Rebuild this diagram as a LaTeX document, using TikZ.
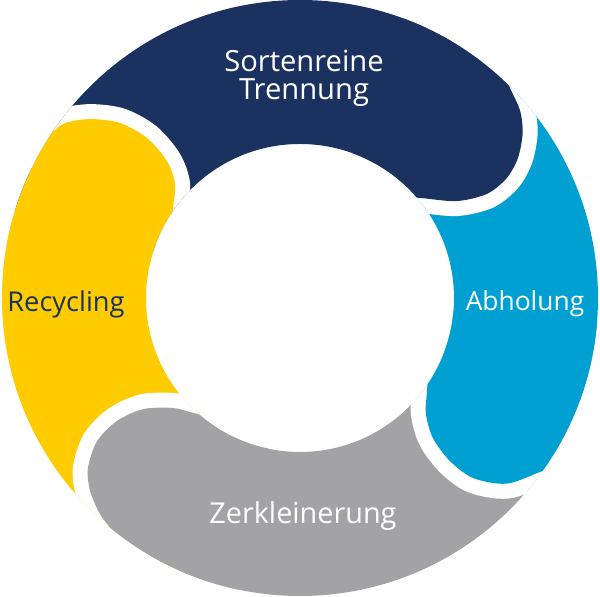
\documentclass[tikz,border=0pt]{standalone}
\usepackage{fontspec}
\setmainfont{Open Sans}
\usepackage{tikz}
\usepackage{xcolor}

\definecolor{ringnavy}{RGB}{27,50,97}
\definecolor{ringblue}{RGB}{0,160,210}
\definecolor{ringgray}{RGB}{163,163,165}
\definecolor{ringyellow}{RGB}{254,204,0}

\tikzset{
  gapline/.style={draw=white, line width=0.6cm},
  steplabel/.style={font=\fontsize{16.4}{16}\selectfont, text=white, align=center}
}

\begin{document}
\begin{tikzpicture}[x=0.02cm, y=0.02cm]
  \useasboundingbox (-300,-299) rectangle (300,298);

  \begin{scope}[even odd rule]
    % ring
    \clip (0,0) circle[radius=298] (0,0) circle[radius=154];

    % bodies of the four steps
    \fill[ringnavy] (58:300) arc[start angle=58, end angle=163, radius=300] -- (163:150) arc[start angle=163, end angle=58, radius=150] -- cycle;
    \fill[ringblue] (-20:300) arc[start angle=-20, end angle=58, radius=300] -- (58:150) arc[start angle=58, end angle=-20, radius=150] -- cycle;
    \fill[ringgray] (245:300) arc[start angle=245, end angle=340, radius=300] -- (340:150) arc[start angle=340, end angle=245, radius=150] -- cycle;
    \fill[ringyellow] (163:300) arc[start angle=163, end angle=245, radius=300] -- (245:150) arc[start angle=245, end angle=163, radius=150] -- cycle;

    % rounded heads, each with a white gap
    \draw[gapline] plot[smooth] coordinates {(53:318) (49:306) (45:297) (40.4:289) (36.5:277) (32.7:259) (30.1:239) (29.1:214) (31.7:184.5) (39.3:157.7) (50:135)};
    \fill[ringnavy] plot[smooth] coordinates {(53:318) (49:306) (45:297) (40.4:289) (36.5:277) (32.7:259) (30.1:239) (29.1:214) (31.7:184.5) (39.3:157.7) (50:135)} -- (70:100) -- (70:350) -- cycle;

    \draw[gapline] plot[smooth] coordinates {(-30:321) (-35.5:298) (-41.9:278) (-46.1:250) (-47.4:221.5) (-46.5:193) (-42.6:171) (-37.1:159) (-30:148) (-22:138)};
    \fill[ringblue] plot[smooth] coordinates {(-30:321) (-35.5:298) (-41.9:278) (-46.1:250) (-47.4:221.5) (-46.5:193) (-42.6:171) (-37.1:159) (-30:148) (-22:138)} -- (-5:100) -- (-5:350) -- cycle;

    \draw[gapline] plot[smooth] coordinates {(239:313) (235.3:305) (231.3:299) (227.2:294.4) (222.6:285.2) (218.7:271.7) (215.2:248.3) (213.9:220.5) (215.3:192.3) (220.9:168) (227:157) (234:148) (241:140)};
    \fill[ringgray] plot[smooth] coordinates {(239:313) (235.3:305) (231.3:299) (227.2:294.4) (222.6:285.2) (218.7:271.7) (215.2:248.3) (213.9:220.5) (215.3:192.3) (220.9:168) (227:157) (234:148) (241:140)} -- (258:100) -- (258:350) -- cycle;

    \draw[gapline] plot[smooth] coordinates {(153.3:310) (148.6:301) (143.7:294) (139.6:276) (135.8:251) (133.7:221.4) (134.2:191) (137.6:169.2) (144.7:155.7) (153:145) (160:138)};
    \fill[ringyellow] plot[smooth] coordinates {(153.3:310) (148.6:301) (143.7:294) (139.6:276) (135.8:251) (133.7:221.4) (134.2:191) (137.6:169.2) (144.7:155.7) (153:145) (160:138)} -- (175:100) -- (175:350) -- cycle;
  \end{scope}

  % labels
  \node[steplabel, font=\fontsize{16.6}{16}\selectfont] (trennung) at (4,220) {Sortenreine\\Trennung};
  \node[steplabel, font=\fontsize{15}{16}\selectfont] (abholung) at (225,-6) {Abholung};
  \node[steplabel] (zerkleinerung) at (3,-218) {Zerkleinerung};
  \node[steplabel, font=\fontsize{15.5}{16}\selectfont, text=ringnavy] (recycling) at (-234,-6) {Recycling};
\end{tikzpicture}
\end{document}
